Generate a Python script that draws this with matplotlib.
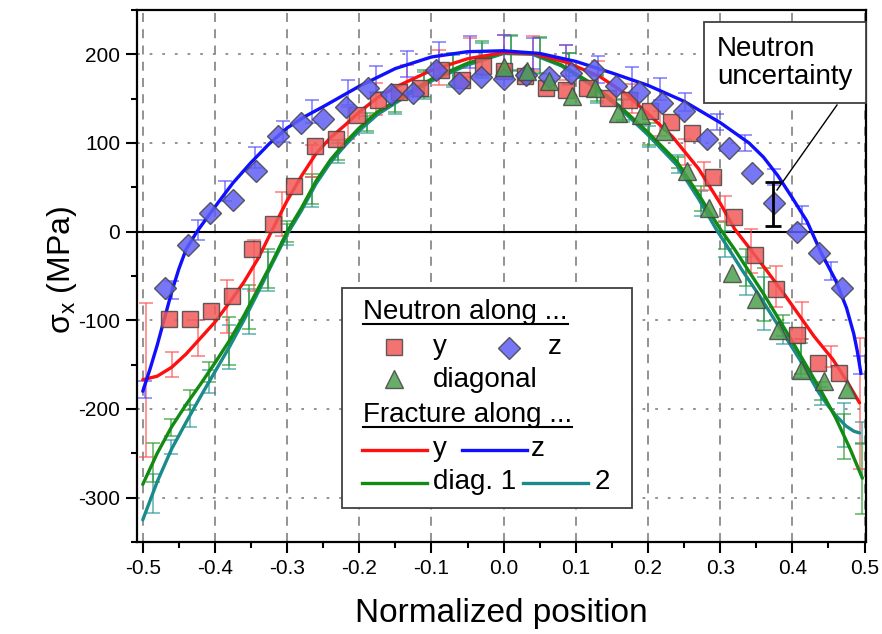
import numpy as np
import matplotlib
matplotlib.use("Agg")
import matplotlib.pyplot as plt
from matplotlib.lines import Line2D
from matplotlib.patches import Rectangle
from matplotlib.ticker import MultipleLocator, FormatStrFormatter

plt.rcParams['font.family'] = ['Liberation Sans', 'DejaVu Sans']
plt.rcParams['mathtext.default'] = 'regular'
plt.rcParams['axes.unicode_minus'] = False

# ---------------- data ----------------
# Neutron along y (red squares)
ny_x = [-0.464, -0.435, -0.406, -0.377, -0.348, -0.319, -0.290, -0.261, -0.232, -0.203, -0.174,
        -0.145, -0.116, -0.087, -0.058, -0.029, 0.0, 0.029, 0.058, 0.087, 0.116, 0.145, 0.174,
        0.203, 0.232, 0.261, 0.290, 0.319, 0.348, 0.377, 0.406, 0.435, 0.464]
ny_y = [-98.5, -99, -90, -72, -20, 9, 51, 97, 105, 132, 148,
        158, 162, 182.6, 171, 187, 181, 176, 162, 160, 162, 150.7, 149,
        135.6, 124, 111, 62, 17, -26, -65, -116, -148, -159]

# Neutron along z (blue diamonds)
nz_x = [-0.46875, -0.4375, -0.40625, -0.375, -0.34375, -0.3125, -0.28125, -0.25, -0.21875, -0.1875,
        -0.15625, -0.125, -0.09375, -0.0625, -0.03125, 0.0, 0.03125, 0.0625, 0.09375, 0.125,
        0.15625, 0.1875, 0.21875, 0.25, 0.28125, 0.3125, 0.34375, 0.375, 0.40625, 0.4375, 0.46875]
nz_y = [-63, -15, 21, 36, 68, 108, 122, 127, 141, 162,
        155, 156, 182, 168, 174, 172, 177, 174, 179, 182.6,
        164.5, 157, 145, 135.6, 104, 94.4, 66, 32, 0, -24, -63.5]

# Neutron along diagonal (green triangles)
nd_x = [0.0, 0.0317, 0.0634, 0.095, 0.127, 0.158, 0.19, 0.222, 0.254, 0.285,
        0.317, 0.349, 0.38, 0.412, 0.444, 0.475]
nd_y = [186, 181, 169.5, 152.5, 162, 134, 132, 113, 68, 26.7,
        -46.6, -75.5, -110.5, -155.6, -168.8, -177]

# Fracture along y (red line)
fy_x = [-0.5, -0.48, -0.46, -0.44, -0.42, -0.40, -0.38, -0.36, -0.34, -0.32, -0.30, -0.28, -0.26,
        -0.24, -0.22, -0.20, -0.175, -0.15, -0.10, -0.05, 0.0, 0.04, 0.087, 0.133, 0.17, 0.2,
        0.234, 0.27, 0.30, 0.32, 0.34, 0.3636, 0.39, 0.41, 0.43, 0.456, 0.475, 0.493]
fy_y = [-167, -163, -153, -138, -120, -102, -80, -57, -30, 3, 35, 63, 88,
        106, 120, 135, 151, 163, 182, 195, 202, 201, 191, 175, 155, 133,
        107, 71, 32, 3, -18, -43, -72, -95, -118, -144, -168, -193]

# Fracture along z (blue line)
fz_x = [-0.5, -0.49, -0.48, -0.47, -0.46, -0.45, -0.44, -0.425, -0.40, -0.375, -0.35, -0.325,
        -0.30, -0.275, -0.25, -0.20, -0.15, -0.10, -0.05, 0.0, 0.05, 0.10, 0.15, 0.20, 0.25,
        0.30, 0.34, 0.36, 0.38, 0.40, 0.42, 0.44, 0.46, 0.475, 0.485, 0.49, 0.495]
fz_y = [-180, -155, -128, -98, -68, -42, -20, 0, 28, 55, 78, 99,
        117, 130, 141, 164, 184, 197, 203, 204, 201, 192, 179, 165, 147,
        123, 100, 84, 63, 38, 12, -24, -55, -86, -115, -135, -160]

# Fracture along diag. 1 (green line)
fd1_x = [-0.5, -0.48, -0.46, -0.44, -0.42, -0.40, -0.38, -0.36, -0.34, -0.32, -0.30, -0.28,
         -0.26, -0.24, -0.22, -0.20, -0.175, -0.15, -0.125, -0.10, -0.05, 0.0, 0.04, 0.08,
         0.12, 0.16, 0.20, 0.24, 0.27, 0.30, 0.32, 0.34, 0.36, 0.38, 0.40, 0.42, 0.44, 0.46,
         0.48, 0.497]
fd1_y = [-285, -250, -220, -195, -172, -148, -123, -95, -64, -33, 0, 27,
         57, 81, 100, 117, 135, 147, 160, 172, 190, 202, 201, 188,
         168, 142, 112, 79, 42, 3, -20, -45, -70, -97, -124, -152, -180, -210,
         -245, -278]

# Fracture along diag. 2 (teal line)
fd2_x = [-0.5, -0.48, -0.46, -0.44, -0.42, -0.40, -0.38, -0.36, -0.34, -0.32, -0.30, -0.28,
         -0.26, -0.24, -0.22, -0.20, -0.175, -0.15, -0.125, -0.10, -0.05, 0.0, 0.04, 0.08,
         0.12, 0.16, 0.20, 0.24, 0.27, 0.295, 0.31, 0.33, 0.355, 0.375, 0.39, 0.41, 0.425,
         0.437, 0.45, 0.46, 0.474, 0.485, 0.493]
fd2_y = [-325, -282, -245, -215, -186, -158, -130, -100, -68, -35, -3, 24,
         54, 78, 97, 114, 132, 145, 158, 170, 188, 201, 200, 187,
         166, 140, 109, 75, 37, 2, -17, -43, -73, -99, -118, -144, -165,
         -182, -197, -207, -219, -225, -227]

# Error bars of the fracture curves
eb_x = [-0.497, -0.459, -0.423, -0.386, -0.344, -0.306, -0.265, -0.216, -0.177, -0.134, -0.090,
        -0.047, 0.0, 0.040, 0.087, 0.131, 0.178, 0.216, 0.251, 0.296, 0.334, 0.375, 0.414,
        0.453, 0.493]
ebz_c = [-178, -66, 2, 46, 84, 113, 135, 157, 172, 189, 198,
         203, 204, 201, 193, 183, 171, 161, 146, 124, 100, 62, 19,
         -44, -150]
ebz_e = [10, 10, 11, 11, 12, 12, 13, 14, 15, 15, 16,
         18, 18, 17, 17, 15, 15, 12, 10, 9, 9, 9, 10,
         10, 10]

eby_x = [-0.495, -0.459, -0.423, -0.384, -0.3455, -0.307, -0.266, -0.216, -0.177, -0.134, -0.090,
         -0.047, 0.0, 0.040, 0.087, 0.131, 0.178, 0.216, 0.251, 0.278, 0.306, 0.343, 0.3775,
         0.414, 0.4535, 0.494]
eby_c = [-167, -150, -120, -84, -38, 20, 80, 123, 150, 170, 185,
         196, 202, 201, 191, 175, 150, 122, 90, 63, 26, -22, -62,
         -100, -141, -194]
eby_e = [87, 14, 20, 30, 29, 25, 18, 18, 18, 18, 20,
         22, 20, 20, 20, 18, 16, 14, 15, 16, 14, 25, 23,
         21, 12, 74]

ebd_x = [-0.486, -0.461, -0.435, -0.408, -0.380, -0.353, -0.326, -0.300, -0.266, -0.229, -0.19,
         -0.15, -0.11, -0.07, -0.03, 0.01, 0.05, 0.09, 0.13, 0.165, 0.202, 0.241, 0.274,
         0.306, 0.336, 0.361, 0.387, 0.412, 0.44, 0.472, 0.497]
ebd1_c = [-260, -221, -190, -158, -123, -85, -42, 0, 48, 92, 124,
          147, 167, 183, 195, 202, 199, 184, 162, 138, 110, 78, 37,
          -4, -40, -71, -106, -141, -180, -231, -278]
ebd1_e = [22, 10, 11, 11, 27, 25, 22, 12, 17, 11, 10,
          12, 15, 18, 20, 20, 20, 18, 15, 12, 12, 6, 14,
          15, 21, 30, 12, 20, 10, 25, 40]
ebd2_c = [-295, -243, -208, -169, -130, -90, -45, -3, 45, 89, 121,
          145, 165, 181, 193, 201, 198, 183, 160, 136, 107, 76, 32,
          -14, -50, -81, -115, -145, -185, -218, -227]
ebd2_e = [22, 8, 12, 13, 25, 25, 22, 12, 17, 11, 10,
          12, 15, 18, 20, 20, 20, 18, 15, 12, 12, 10, 14,
          15, 21, 30, 12, 20, 10, 25, 12]

# Neutron uncertainty example
nu_x = [0.373]
nu_y = [31]
nu_e = [25]

x_ticks = [-0.5, -0.4, -0.3, -0.2, -0.1, 0.0, 0.1, 0.2, 0.3, 0.4, 0.5]
y_ticks = [-300, -200, -100, 0, 100, 200]

# ---------------- figure ----------------
W, H = 882, 634
fig = plt.figure(figsize=(W / 100, H / 100), dpi=100)
ax = fig.add_axes([137 / W, 1 - 542 / H, 729 / W, 532 / H])
ax.set_xlim(-0.508, 0.502)
ax.set_ylim(-350, 250)

def P(x, y):
    return (x / W, 1 - y / H)

C_RED, C_BLUE, C_GREEN, C_TEAL = '#ff1010', '#1010ff', '#138a13', '#1a8a8a'

# grid
for xv in x_ticks:
    ax.axvline(xv, color='#8a8a8a', lw=1.3, ls=(0, (5, 4)), zorder=0)
for yv in y_ticks:
    if yv != 0:
        ax.axhline(yv, color='#8a8a8a', lw=1.3, ls=(0, (1.5, 5.5)), zorder=0)
ax.axhline(0, color='black', lw=1.5, zorder=1)

# error bars on fracture curves
ekw = dict(fmt='none', elinewidth=1.2, capsize=5, capthick=1.2, alpha=0.7, zorder=2)
ax.errorbar(ebd_x, ebd2_c, yerr=ebd2_e, ecolor='#2a9a9a', **ekw)
ax.errorbar(ebd_x, ebd1_c, yerr=ebd1_e, ecolor='#2a9a2a', **ekw)
ax.errorbar(eby_x, eby_c, yerr=eby_e, ecolor='#ff5050', **ekw)
ax.errorbar(eb_x, ebz_c, yerr=ebz_e, ecolor='#5050ff', **ekw)

# fracture curves
lkw = dict(lw=2.4, zorder=3, solid_capstyle='round')
ax.plot(fd2_x, fd2_y, color=C_TEAL, **lkw)
ax.plot(fd1_x, fd1_y, color=C_GREEN, **lkw)
ax.plot(fy_x, fy_y, color=C_RED, **lkw)
ax.plot(fz_x, fz_y, color=C_BLUE, **lkw)

# neutron points
mkw = dict(ls='none', mec='#454545', mew=1.0, alpha=0.85, zorder=4)
sq_style = dict(marker='s', ms=12, mfc='#f25a5a')
di_style = dict(marker='D', ms=11, mfc='#5f5ff5')
tr_style = dict(marker='^', ms=13.5, mfc='#4ea04e')
ax.plot(ny_x, ny_y, **sq_style, **mkw)
ax.plot(nz_x, nz_y, **di_style, **mkw)
ax.plot(nd_x, nd_y, **tr_style, **mkw)

# neutron uncertainty
ax.errorbar(nu_x, nu_y, yerr=nu_e, fmt='none', ecolor='black', elinewidth=2, capsize=6,
            capthick=2, zorder=5)

# axes styling
ax.set_xticks(x_ticks)
ax.set_yticks(y_ticks)
ax.xaxis.set_major_formatter(FormatStrFormatter('%.1f'))
ax.xaxis.set_minor_locator(MultipleLocator(0.05))
ax.yaxis.set_minor_locator(MultipleLocator(50))
ax.tick_params(which='major', direction='out', length=8, width=1.5, labelsize=15, pad=4,
               top=False, right=False)
ax.tick_params(which='minor', direction='out', length=4, width=1.5, top=False, right=False)
for s in ax.spines.values():
    s.set_linewidth(1.6)

ax.set_xlabel('Normalized position', fontsize=24)
ax.xaxis.set_label_coords(0.5, -0.106)
ax.set_ylabel('σ$_x$ (MPa)', fontsize=23)
ax.yaxis.set_label_coords(-0.08, 0.511)

# ---------------- manual legend ----------------
FS = 20
x0, y0 = P(342, 508)
x1, y1 = P(632, 288)
fig.add_artist(Rectangle((x0, y0), x1 - x0, y1 - y0, transform=fig.transFigure,
                         fc='white', ec='#404040', lw=1.3, zorder=10))

def ftext(px, py, s, **kw):
    return fig.text(*P(px, py), s, fontsize=FS, va='center', ha='left', zorder=11, **kw)

h1 = ftext(363, 312, 'Neutron along ...')
h2 = ftext(363, 415, 'Fracture along ...')
ftext(433, 347, 'y')
ftext(548, 347, 'z')
ftext(433, 380, 'diagonal')
ftext(433, 449, 'y')
ftext(531, 449, 'z')
ftext(433, 482, 'diag. 1')
ftext(595, 482, '2')

def fmark(px, py, style):
    fig.add_artist(Line2D([P(px, py)[0]], [P(px, py)[1]], transform=fig.transFigure,
                          zorder=11, **style, **{k: v for k, v in mkw.items() if k != 'zorder'}))

fmark(394, 347, sq_style)
fmark(509, 348, di_style)
fmark(394, 379, tr_style)

def fline(pxa, pxb, py, color):
    a = P(pxa, py)
    b = P(pxb, py)
    fig.add_artist(Line2D([a[0], b[0]], [a[1], b[1]], transform=fig.transFigure,
                          color=color, lw=2.4, zorder=11))

fline(362, 427, 450, C_RED)
fline(462, 527, 450, C_BLUE)
fline(362, 427, 483, C_GREEN)
fline(523, 588, 483, C_TEAL)

# underline headers
fig.canvas.draw()
inv = fig.transFigure.inverted()
for t in (h1, h2):
    bb = t.get_window_extent()
    (ax_, ay_), (bx_, _) = inv.transform([(bb.x0, bb.y0 + 1), (bb.x1, bb.y0)])
    fig.add_artist(Line2D([ax_, bx_], [ay_, ay_], transform=fig.transFigure,
                          color='black', lw=1.5, zorder=11))

# ---------------- annotation ----------------
bx0, by0 = P(704, 103)
bx1, by1 = P(866, 22)
fig.add_artist(Rectangle((bx0, by0), bx1 - bx0, by1 - by0, transform=fig.transFigure,
                         fc='white', ec='#404040', lw=1.3, zorder=10))
fig.text(*P(717, 63), 'Neutron\nuncertainty', fontsize=FS, ha='left', va='center',
         multialignment='left', zorder=11, linespacing=1.15)
pa = P(837, 105)
pb = P(777, 190)
fig.add_artist(Line2D([pa[0], pb[0]], [pa[1], pb[1]], transform=fig.transFigure,
                      color='black', lw=1.0, zorder=11))

fig.savefig('out.png', dpi=100)
